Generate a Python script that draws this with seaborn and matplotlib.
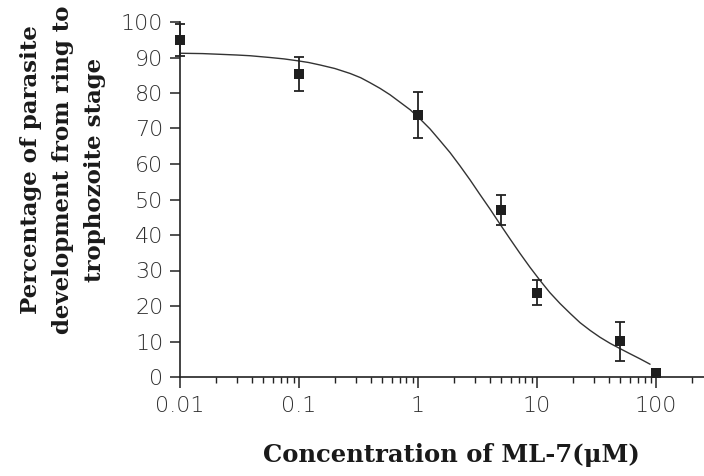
import matplotlib
matplotlib.use("Agg")
import matplotlib.pyplot as plt
import matplotlib.ticker as mticker
import seaborn as sns
import pandas as pd

# Data points (mean ± error)
conc = [0.01, 0.1, 1, 5, 10, 50, 100]
percent = [94.9, 85.4, 73.8, 47.0, 23.7, 10.1, 1.1]
error = [4.5, 4.7, 6.5, 4.3, 3.5, 5.5, 0.0]

# Fitted curve
curve_conc = [0.01, 0.0155, 0.0217, 0.03, 0.0387, 0.057, 0.075, 0.0962, 0.12, 0.150,
              0.2, 0.269, 0.33, 0.395, 0.48, 0.582, 0.7, 0.857, 1.04, 1.26, 1.52,
              1.86, 2.25, 2.74, 3.3, 4.03, 4.9, 5.93, 7.2, 8.73, 10.6, 12.8, 15.6,
              19.0, 23.0, 28.0, 33.8, 41.0, 49.8, 60.0, 73.5, 89.1]
curve_percent = [91.2, 91.1, 90.9, 90.7, 90.5, 90.0, 89.6, 89.1, 88.6, 87.9,
                 86.9, 85.5, 84.3, 82.9, 81.3, 79.5, 77.5, 75.3, 72.7, 69.9, 66.7,
                 63.2, 59.5, 55.5, 51.5, 47.3, 43.0, 38.9, 34.8, 30.9, 27.2, 23.8, 20.7,
                 17.9, 15.3, 13.1, 11.2, 9.5, 8.0, 6.6, 5.1, 3.6]

xtick_vals = [0.01, 0.1, 1, 10, 100]
xtick_labels = ["0.01", "0.1", "1", "10", "100"]
ytick_vals = list(range(0, 101, 10))

xlabel = "Concentration of ML-7(\u03bcM)"
ylabel = "Percentage of parasite\ndevelopment from ring to\ntrophozoite stage"

sns.set_style("ticks")
plt.rcParams['font.family'] = ['DejaVu Sans']

df_pts = pd.DataFrame({"conc": conc, "percent": percent, "error": error})
df_curve = pd.DataFrame({"conc": curve_conc, "percent": curve_percent})

fig = plt.figure(figsize=(7.04, 4.76), dpi=100)
ax = fig.add_axes([180/704, 1-377/476, 1-180/704, (377-22)/476])

sns.lineplot(data=df_curve, x="conc", y="percent", ax=ax, color="#333333",
             linewidth=1.0, estimator=None, sort=False)
ax.errorbar(df_pts["conc"], df_pts["percent"], yerr=df_pts["error"], fmt="none",
            ecolor="#222222", elinewidth=1.3, capsize=3.3, capthick=1.3, clip_on=False, zorder=3)
sns.scatterplot(data=df_pts, x="conc", y="percent", ax=ax, marker="s", s=50,
                color="#1e1e1e", edgecolor="#1e1e1e", linewidth=0, zorder=4, clip_on=False)

ax.set_xscale("log")
ax.set_xlim(0.01, 10**2.403)
ax.set_ylim(0, 100)
ax.set_xticks(xtick_vals)
ax.set_xticklabels(xtick_labels)
ax.xaxis.set_minor_locator(mticker.LogLocator(base=10, subs=range(2, 10), numticks=20))
ax.xaxis.set_minor_formatter(mticker.NullFormatter())
ax.set_yticks(ytick_vals)
ax.set_xlabel("")
ax.set_ylabel("")

for s in ["top", "right"]:
    ax.spines[s].set_visible(False)
for s in ["left", "bottom"]:
    ax.spines[s].set_linewidth(1.2)
    ax.spines[s].set_color("#222222")

ax.tick_params(axis="both", which="major", labelsize=16, labelcolor="#2e2e2e",
               color="#222222", width=1.1, length=7, pad=5)
ax.tick_params(axis="x", which="minor", length=4, width=1.0, color="#222222")
ax.tick_params(axis="x", which="major", length=8, pad=6)
for lab in ax.get_xticklabels() + ax.get_yticklabels():
    lab.set_fontweight(200)

fig.text(451/704, 1-455/476, xlabel, ha="center", va="center",
         family="DejaVu Serif", weight="bold", fontsize=17.5, color="#1a1a1a")
fig.text(63/704, 1-170/476, ylabel, ha="center", va="center", rotation=90,
         family="DejaVu Serif", weight="bold", fontsize=16.5, color="#1a1a1a",
         linespacing=1.6, multialignment="center")

fig.savefig("out.png", dpi=100, facecolor="white")
